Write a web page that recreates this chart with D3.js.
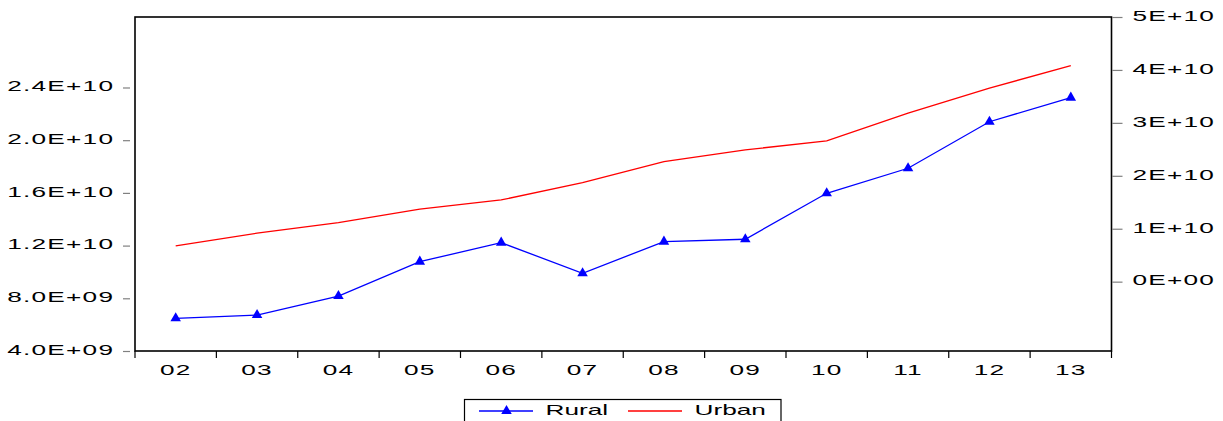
<!DOCTYPE html>
<html>
<head>
<meta charset="utf-8">
<script src="https://cdn.jsdelivr.net/npm/d3@7"></script>
<style>
  body { margin: 0; background: #fff; }
  text { font-family: "Liberation Sans", Arial, sans-serif; font-size: 15px; fill: #000; }
  .tick text { letter-spacing: 0.7px; }
</style>
</head>
<body>
<svg id="chart" width="1223" height="421"></svg>
<script>
// categories (years, 2002-2013)
var years = ["02","03","04","05","06","07","08","09","10","11","12","13"];
// Rural, left axis
var rural = [6.48e9, 6.73e9, 8.17e9, 10.78e9, 12.22e9, 9.90e9, 12.30e9, 12.48e9, 15.97e9, 17.87e9, 21.40e9, 23.23e9];
// Urban, right axis
var urban = [0.675e10, 0.915e10, 1.115e10, 1.369e10, 1.544e10, 1.871e10, 2.268e10, 2.490e10, 2.660e10, 3.183e10, 3.656e10, 4.083e10];

var leftTicks = [4e9, 8e9, 1.2e10, 1.6e10, 2.0e10, 2.4e10];
var leftTickLabels = ["4.0E+09", "8.0E+09", "1.2E+10", "1.6E+10", "2.0E+10", "2.4E+10"];
var rightTicks = [0, 1e10, 2e10, 3e10, 4e10, 5e10];
var rightTickLabels = ["0E+00", "1E+10", "2E+10", "3E+10", "4E+10", "5E+10"];

var seriesNames = ["Rural", "Urban"];

// plot frame
var pLeft = 135, pRight = 1111.5, pTop = 17, pBottom = 351;
var sx = 1.75; // glyphs are stretched wide in the original

var svg = d3.select("#chart");

var x = d3.scaleBand().domain(years).range([pLeft, pRight]).padding(0);
var yL = d3.scaleLinear().domain([4e9, 2.935e10]).range([pBottom, pTop]);
var yR = d3.scaleLinear().domain([-1.31e10, 5e10]).range([pBottom, pTop]);

function stretch(sel) {
    sel.each(function() {
        var t = d3.select(this);
        var xx = +t.attr("x") || 0;
        t.attr("x", xx / sx).attr("transform", "scale(" + sx + ",1)");
    });
}

// left axis (ticks drawn a little away from the frame)
var gl = svg.append("g")
    .attr("transform", "translate(" + (pLeft - 5) + ",0)")
    .call(d3.axisLeft(yL).tickValues(leftTicks)
        .tickFormat(function(d, i) { return leftTickLabels[i]; })
        .tickSize(7).tickPadding(8.8));
gl.select(".domain").remove();
gl.selectAll("line").attr("stroke", "#808080").attr("stroke-width", 1.2);
gl.selectAll("text").attr("font-size", null).attr("font-family", null)
    .attr("dy", "0.22em");
stretch(gl.selectAll("text"));

// right axis
var gr = svg.append("g")
    .attr("transform", "translate(" + (pRight + 1) + ",0)")
    .call(d3.axisRight(yR).tickValues(rightTicks)
        .tickFormat(function(d, i) { return rightTickLabels[i]; })
        .tickSize(10).tickPadding(10));
gr.select(".domain").remove();
gr.selectAll("line").attr("stroke", "#808080").attr("stroke-width", 1.2);
gr.selectAll("text").attr("font-size", null).attr("font-family", null)
    .attr("dy", "0.22em");
stretch(gr.selectAll("text"));

// bottom axis: labels centred in each year, ticks on the boundaries
var gb = svg.append("g")
    .attr("transform", "translate(0," + pBottom + ")")
    .call(d3.axisBottom(x).tickSize(0).tickPadding(13));
gb.select(".domain").remove();
gb.selectAll("text").attr("font-size", null).attr("font-family", null);
stretch(gb.selectAll("text"));

var bounds = years.map(function(d) { return x(d); }).concat([pRight]);
svg.append("g").selectAll("line")
    .data(bounds)
    .enter()
    .append("line")
    .attr("x1", function(d) { return d; })
    .attr("x2", function(d) { return d; })
    .attr("y1", pBottom)
    .attr("y2", pBottom + 7)
    .attr("stroke", "#000")
    .attr("stroke-width", 1.2);

// frame
svg.append("rect")
    .attr("x", pLeft).attr("y", pTop)
    .attr("width", pRight - pLeft).attr("height", pBottom - pTop)
    .attr("fill", "none").attr("stroke", "#000").attr("stroke-width", 1.6);

var cx = function(d, i) { return x(years[i]) + x.bandwidth() / 2; };

// Urban line (red, right axis)
svg.append("path")
    .datum(urban)
    .attr("fill", "none")
    .attr("stroke", "#ff0000")
    .attr("stroke-width", 1.3)
    .attr("d", d3.line().x(cx).y(function(d) { return yR(d); }));

// Rural line (blue, left axis) with triangles
svg.append("path")
    .datum(rural)
    .attr("fill", "none")
    .attr("stroke", "#0000ff")
    .attr("stroke-width", 1.3)
    .attr("d", d3.line().x(cx).y(function(d) { return yL(d); }));

var tri = d3.symbol().type(d3.symbolTriangle).size(48);
svg.append("g").selectAll("path")
    .data(rural)
    .enter()
    .append("path")
    .attr("d", tri)
    .attr("fill", "#0000ff")
    .attr("transform", function(d, i) { return "translate(" + cx(d, i) + "," + yL(d) + ")"; });

// legend
var lg = svg.append("g");
lg.append("rect")
    .attr("x", 464.5).attr("y", 399.5)
    .attr("width", 316.5).attr("height", 40)
    .attr("fill", "#fff").attr("stroke", "#000").attr("stroke-width", 1.2);

var legendItems = [
    { name: seriesNames[0], color: "#0000ff", x0: 479, marker: true },
    { name: seriesNames[1], color: "#ff0000", x0: 628, marker: false }
];
legendItems.forEach(function(it) {
    lg.append("line")
        .attr("x1", it.x0).attr("x2", it.x0 + 54)
        .attr("y1", 411).attr("y2", 411)
        .attr("stroke", it.color).attr("stroke-width", 1.3);
    if (it.marker) {
        lg.append("path").attr("d", tri).attr("fill", it.color)
            .attr("transform", "translate(" + (it.x0 + 27.5) + ",411)");
    }
    lg.append("text")
        .attr("x", (it.x0 + 66.5) / sx).attr("y", 415.5)
        .attr("transform", "scale(" + sx + ",1)")
        .text(it.name);
});
</script>
</body>
</html>
